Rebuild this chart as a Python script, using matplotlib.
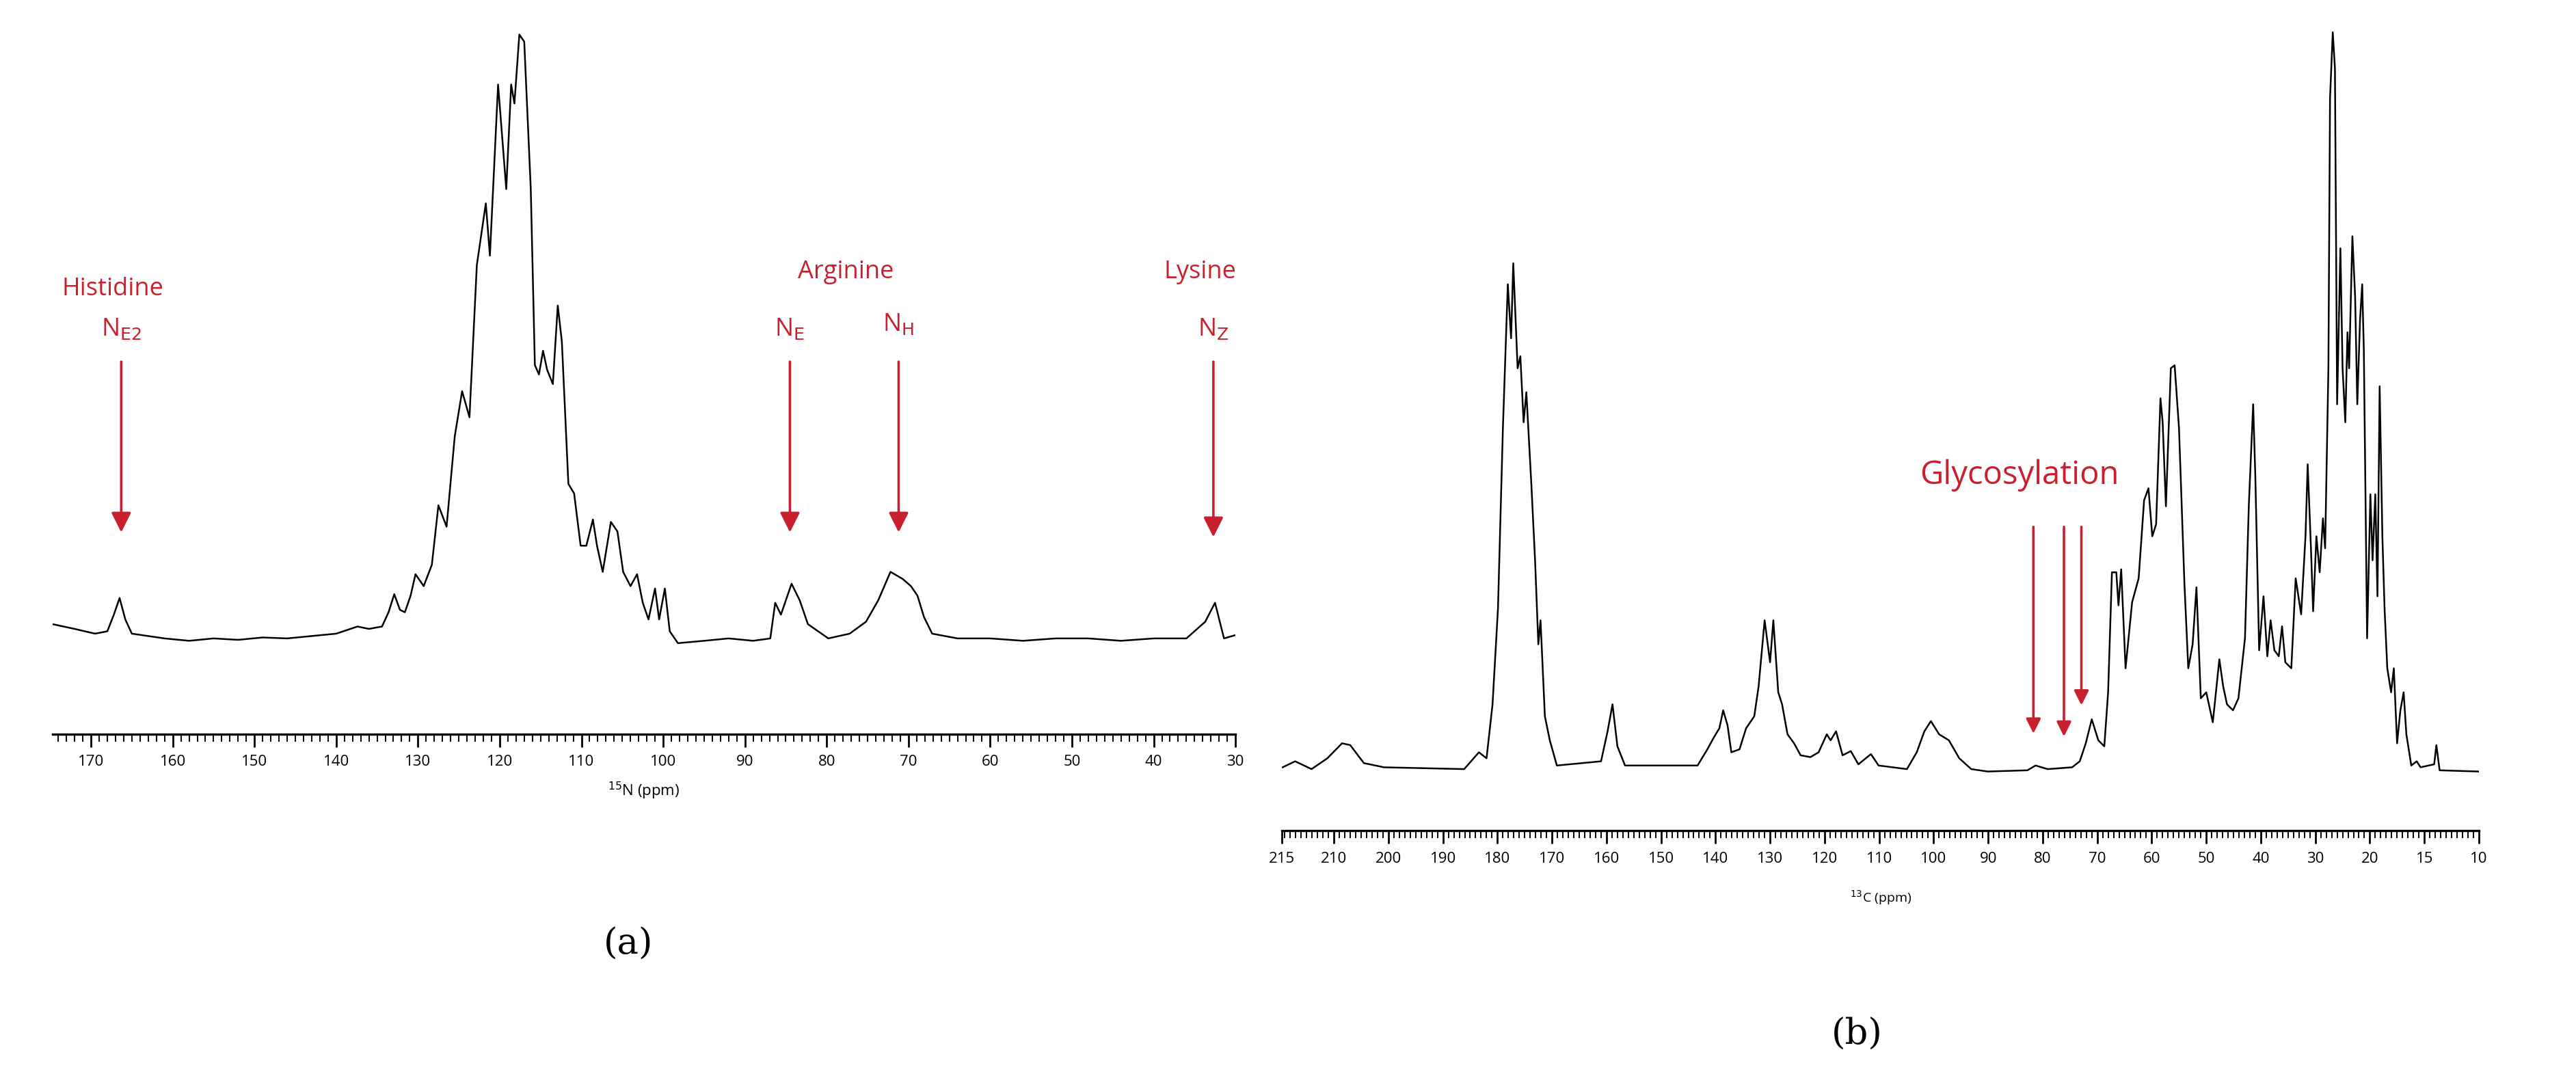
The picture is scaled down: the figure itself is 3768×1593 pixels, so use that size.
import matplotlib
matplotlib.use("Agg")
import matplotlib.pyplot as plt
from matplotlib.ticker import MultipleLocator

# ---------- data: 15N spectrum (ppm, intensity a.u.) ----------
n_ppm = [174.7, 172.0, 169.5, 168.0, 167.2, 166.5, 165.8, 165.0, 163.0, 161.0, 158.0, 155.0, 152.0,
         149.0, 146.0, 143.0, 140.0, 137.4, 136.0, 134.4, 133.6, 132.9, 132.2, 131.6, 130.9, 130.3,
         129.3, 128.3, 127.5, 126.5, 125.5, 124.6, 123.7, 122.8, 121.7, 121.2, 120.2, 119.2, 118.6,
         118.2, 117.6, 117.0, 116.2, 115.7, 115.2, 114.7, 114.2, 113.5, 112.9, 112.4, 111.6, 110.9,
         110.1, 109.4, 108.6, 108.1, 107.4, 106.4, 105.6, 104.9, 104.0, 103.2, 102.5, 101.8, 101.0,
         100.5, 99.8, 99.2, 98.2, 95.0, 92.0, 89.0, 86.9, 86.3, 85.6, 84.3, 83.3, 82.3, 79.8, 77.2,
         75.2, 73.7, 72.2, 70.7, 69.7, 68.9, 68.1, 67.1, 64.0, 60.0, 56.0, 52.0, 48.0, 44.0, 40.0,
         36.0, 33.7, 32.5, 31.4, 30.0]
n_int = [30, 20, 10, 15, 50, 85, 40, 10, 5, 0, -5, 0, -3, 2, 0, 5, 10, 25, 20, 25, 55, 93, 60, 55,
         90, 135, 110, 155, 280, 235, 425, 520, 465, 785, 915, 805, 1165, 945, 1165, 1125, 1270,
         1255, 945, 575, 555, 605, 565, 535, 700, 625, 325, 305, 195, 195, 250, 195, 140, 245, 225,
         140, 110, 135, 75, 40, 105, 40, 105, 15, -10, -5, 0, -5, 0, 75, 50, 115, 80, 30, 0, 10, 35,
         80, 140, 125, 110, 90, 45, 10, 0, 0, -5, 0, 0, -5, 0, 0, 35, 75, 0, 7]

# ---------- data: 13C spectrum ----------
c_ppm = [219.4, 217.1, 214.1, 211.2, 208.5, 207.0, 204.5, 200.8, 186.1, 183.4, 182.0, 180.9, 179.9,
         179.0, 178.1, 177.5, 177.1, 176.3, 175.8, 175.2, 174.7, 173.8, 173.1, 172.5, 172.1, 171.3,
         170.4, 169.1, 161.0, 159.8, 158.9, 158.0, 156.6, 143.3, 141.5, 140.3, 139.3, 138.6, 137.8,
         137.1, 135.6, 134.4, 132.9, 132.1, 131.0, 130.0, 129.4, 128.5, 127.8, 126.8, 125.6, 124.4,
         122.6, 121.1, 119.6, 118.9, 117.9, 116.7, 115.2, 113.8, 111.5, 110.1, 104.9, 103.1, 101.7,
         100.5, 99.0, 97.2, 95.3, 93.1, 90.1, 82.8, 81.3, 79.1, 74.6, 73.2, 72.1, 71.0, 69.8, 68.7,
         68.0, 67.3, 66.5, 66.1, 65.6, 64.8, 63.6, 62.4, 61.4, 60.6, 59.9, 59.2, 58.4, 58.0, 57.4,
         56.5, 55.8, 55.0, 54.0, 53.3, 52.5, 51.8, 51.0, 50.0, 48.8, 47.6, 46.9, 46.2, 45.1, 44.1,
         42.9, 42.2, 41.4, 41.0, 40.3, 39.5, 38.8, 38.2, 37.5, 36.7, 36.1, 35.5, 34.4, 33.6, 32.6,
         31.8, 31.4, 30.8, 30.4, 29.8, 29.2, 28.6, 28.2, 27.6, 27.3, 26.8, 26.4, 26.0, 25.4, 25.0,
         24.5, 24.1, 23.8, 23.2, 22.7, 22.3, 21.8, 21.4, 21.1, 20.5, 19.9, 19.5, 19.0, 18.6, 18.2,
         17.7, 17.3, 16.8, 16.1, 15.6, 15.0, 14.4, 13.8, 13.3, 12.4, 11.4, 10.7, 8.2, 7.8, 7.2, 0.1]
c_int = [3, 13, 0, 18, 43, 40, 10, 3, 0, 28, 18, 108, 268, 568, 808, 718, 843, 668, 688, 578, 628,
         478, 348, 208, 248, 88, 48, 6, 13, 63, 108, 38, 6, 6, 33, 53, 68, 98, 73, 28, 33, 68, 88,
         138, 248, 178, 248, 128, 108, 58, 43, 23, 20, 28, 58, 48, 63, 23, 30, 8, 25, 6, 0, 28, 63,
         80, 58, 48, 18, 0, -4, -2, 6, 0, 3, 13, 43, 83, 48, 38, 128, 328, 328, 273, 333, 168, 278,
         318, 448, 468, 388, 408, 618, 578, 438, 668, 673, 568, 308, 168, 208, 303, 118, 128, 78,
         183, 138, 108, 98, 118, 218, 438, 608, 488, 198, 288, 188, 248, 198, 188, 238, 178, 168,
         318, 258, 388, 508, 368, 263, 388, 328, 418, 368, 668, 1118, 1228, 1168, 608, 868, 668,
         578, 728, 668, 888, 788, 608, 748, 808, 698, 218, 458, 348, 458, 288, 638, 388, 268, 168,
         128, 168, 43, 98, 128, 58, 6, 13, 3, 8, 40, -2, -4]
c_ticks = [219.5, 210, 200, 190, 180, 170, 160, 150, 140, 130, 120, 110, 100, 90, 80, 70, 60, 50,
           40, 30, 20, 10, 0]
c_labels = ['215', '210', '200', '190', '180', '170', '160', '150', '140', '130', '120', '110',
            '100', '90', '80', '70', '60', '50', '40', '30', '20', '15', '10']

# annotations: (ppm, arrow top, arrow tip)
n_arrows = [(166.3, 590, 215), (84.5, 590, 215), (71.2, 590, 215), (32.7, 590, 205)]
c_arrows = [(81.7, 410, 53), (76.1, 410, 48), (72.9, 410, 100)]

RED = '#c8202f'
plt.rcParams['font.family'] = ['Open Sans', 'DejaVu Sans']

fig = plt.figure(figsize=(18.84, 7.965), dpi=200)

def style(ax, minor):
    for s in ['top', 'left', 'right']:
        ax.spines[s].set_visible(False)
    ax.spines['bottom'].set_linewidth(1.2)
    ax.set_yticks([])
    ax.xaxis.set_minor_locator(MultipleLocator(minor))
    ax.tick_params(axis='x', which='major', length=7, width=1.0, labelsize=8, pad=4)
    ax.tick_params(axis='x', which='minor', length=4, width=0.7)

# ---- panel (a) ----
ax1 = fig.add_axes([0.0204, 0.326, 0.4592, 0.651])
ax1.plot(n_ppm, n_int, color='black', lw=0.9)
ax1.set_xlim(174.7, 30)
ax1.set_ylim(-201, 1290)
ax1.set_xticks(range(170, 29, -10))
style(ax1, 1)
ax1.set_xlabel('$^{15}$N (ppm)', fontsize=8, labelpad=6)
for x, top, tip in n_arrows:
    ax1.annotate('', xy=(x, tip), xytext=(x, top),
                 arrowprops=dict(arrowstyle='-|>', color=RED, lw=1.3, mutation_scale=22))
ax1.text(167.3, 735, 'Histidine', color=RED, fontsize=13, ha='center', va='center')
ax1.text(166.3, 650, r'N$_{\mathrm{E2}}$', color=RED, fontsize=13, ha='center', va='center')
ax1.text(77.7, 770, 'Arginine', color=RED, fontsize=13, ha='center', va='center')
ax1.text(84.5, 650, r'N$_{\mathrm{E}}$', color=RED, fontsize=13, ha='center', va='center')
ax1.text(71.2, 660, r'N$_{\mathrm{H}}$', color=RED, fontsize=13, ha='center', va='center')
ax1.text(34.3, 770, 'Lysine', color=RED, fontsize=13, ha='center', va='center')
ax1.text(32.7, 650, r'N$_{\mathrm{Z}}$', color=RED, fontsize=13, ha='center', va='center')

# ---- panel (b) ----
ax2 = fig.add_axes([0.4977, 0.237, 0.4646, 0.740])
ax2.plot(c_ppm, c_int, color='black', lw=0.9)
ax2.set_xlim(219.4, 0.0)
ax2.set_ylim(-103, 1240)
ax2.set_xticks(c_ticks)
ax2.set_xticklabels(c_labels)
style(ax2, 1)
ax2.set_xlabel('$^{13}$C (ppm)', fontsize=7, labelpad=12)
for x, top, tip in c_arrows:
    ax2.annotate('', xy=(x, tip), xytext=(x, top),
                 arrowprops=dict(arrowstyle='-|>', color=RED, lw=1.3, mutation_scale=16))
ax2.text(84.3, 490, 'Glycosylation', color=RED, fontsize=17, ha='center', va='center')

fig.text(0.244, 0.133, '(a)', fontsize=19, family='DejaVu Serif', ha='center', va='center')
fig.text(0.721, 0.05, '(b)', fontsize=19, family='DejaVu Serif', ha='center', va='center')

fig.savefig('out.png', dpi=200, facecolor='white')
